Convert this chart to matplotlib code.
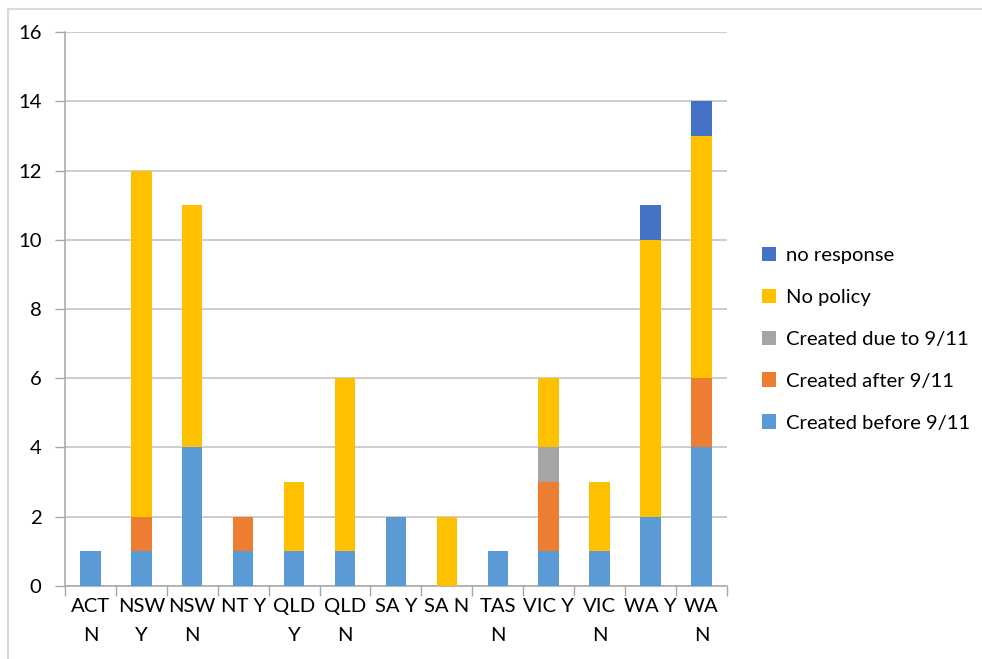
import matplotlib
matplotlib.use("Agg")
import matplotlib.pyplot as plt
from matplotlib.lines import Line2D
import numpy as np

plt.rcParams['font.family'] = ['Lato', 'DejaVu Sans']

categories = ["ACT\nN", "NSW\nY", "NSW\nN", "NT Y", "QLD\nY", "QLD\nN", "SA Y",
              "SA N", "TAS\nN", "VIC Y", "VIC\nN", "WA Y", "WA\nN"]
created_before = [1, 1, 4, 1, 1, 1, 2, 0, 1, 1, 1, 2, 4]
created_after = [0, 1, 0, 1, 0, 0, 0, 0, 0, 2, 0, 0, 2]
created_due = [0, 0, 0, 0, 0, 0, 0, 0, 0, 1, 0, 0, 0]
no_policy = [0, 10, 7, 0, 2, 5, 0, 2, 0, 2, 2, 8, 7]
no_response = [0, 0, 0, 0, 0, 0, 0, 0, 0, 0, 0, 1, 1]

series = [
    ("Created before 9/11", created_before, "#5B9BD5"),
    ("Created after 9/11", created_after, "#ED7D31"),
    ("Created due to 9/11", created_due, "#A5A5A5"),
    ("No policy", no_policy, "#FFC000"),
    ("no response", no_response, "#4472C4"),
]

FS = 14.6

fig = plt.figure(figsize=(9.82, 6.59), dpi=100)
ax = fig.add_axes([0.0662, 0.1108, 0.674, 0.8406])

x = np.arange(len(categories))
bottom = np.zeros(len(categories))
handles = []
for name, vals, color in series:
    vals = np.array(vals, dtype=float)
    b = ax.bar(x, vals, width=0.4, bottom=bottom, color=color, label=name,
               zorder=3)
    handles.append(b)
    bottom += vals

ax.set_xlim(-0.5, len(categories) - 0.5)
ax.set_ylim(0, 16)
ax.set_yticks(range(0, 17, 2))
ax.yaxis.grid(True, color="#C0C0C0", linewidth=1.1, zorder=0)
ax.set_axisbelow(True)

ax.set_xticks(x)
ax.set_xticklabels(categories, fontsize=FS, linespacing=1.8)
ax.tick_params(axis='x', length=0, pad=9)
ax.set_xticks(np.arange(-0.5, len(categories), 1.0), minor=True)
ax.tick_params(axis='x', which='minor', length=7, color="#A6A6A6", width=1)
ax.tick_params(axis='y', length=7, color="#A6A6A6", width=1, labelsize=FS,
               pad=10)

for s in ["top", "right"]:
    ax.spines[s].set_visible(False)
for s in ["left", "bottom"]:
    ax.spines[s].set_color("#A6A6A6")
    ax.spines[s].set_linewidth(1.1)

leg = fig.legend(handles[::-1], [h.get_label() for h in handles[::-1]],
                 loc="upper left", bbox_to_anchor=(0.768, 0.638),
                 frameon=False, fontsize=FS, handlelength=0.7,
                 handleheight=0.7, handletextpad=0.45, labelspacing=1.22,
                 borderaxespad=0)

# light frame around the chart area
fig.add_artist(Line2D([8 / 982, 8 / 982], [0, 1 - 9 / 659],
                      transform=fig.transFigure, color="#D9D9D9", linewidth=1.5))
fig.add_artist(Line2D([8 / 982, 1], [1 - 9 / 659, 1 - 9 / 659],
                      transform=fig.transFigure, color="#D9D9D9", linewidth=1.5))

fig.savefig("out.png", dpi=100)
